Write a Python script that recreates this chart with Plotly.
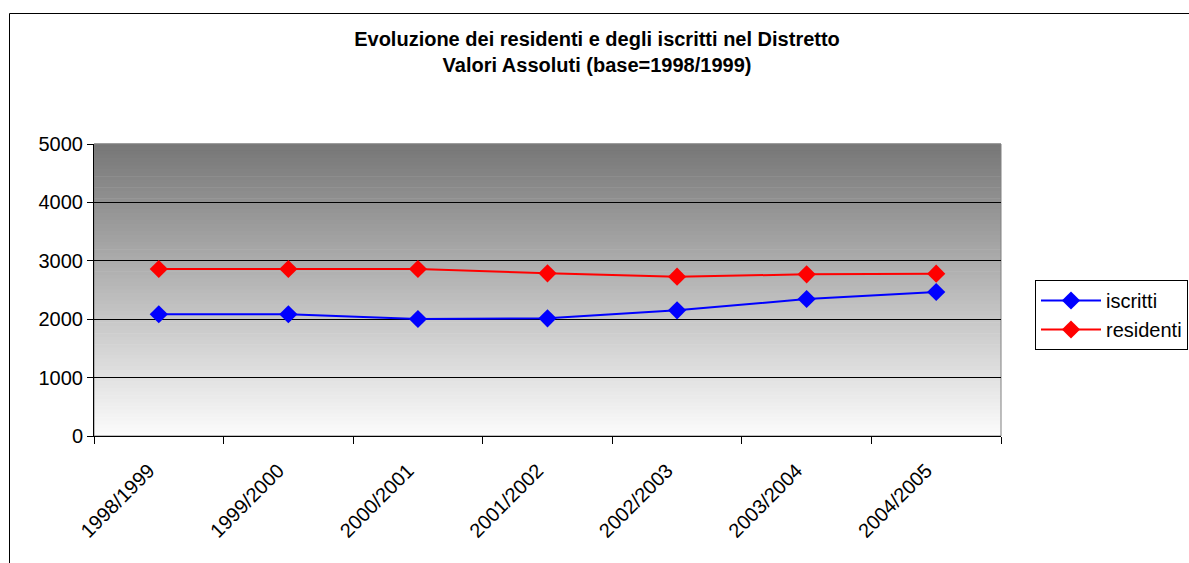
import plotly.graph_objects as go

# Anni scolastici e valori assoluti
anni = ["1998/1999", "1999/2000", "2000/2001", "2001/2002", "2002/2003", "2003/2004", "2004/2005"]
iscritti = [2085, 2085, 2003, 2015, 2152, 2346, 2466]
residenti = [2860, 2860, 2860, 2786, 2728, 2768, 2779]

W, H = 1189, 563
L, R, T, B = 94, 188, 144, 127
pw, ph = W - L - R, H - T - B

def px_x(p):
    return (p - L) / pw

def px_y(p):
    return (H - B - p) / ph

fig = go.Figure()
fig.add_trace(go.Scatter(
    x=anni, y=iscritti, name="iscritti", mode="lines+markers",
    line=dict(color="#0000ff", width=2),
    marker=dict(symbol="diamond", size=14, color="#0000ff"),
))
fig.add_trace(go.Scatter(
    x=anni, y=residenti, name="residenti", mode="lines+markers",
    line=dict(color="#ff0000", width=2),
    marker=dict(symbol="diamond", size=14, color="#ff0000"),
))

shapes = []
# vertical grey gradient in the plot area (dark at top, white at bottom)
n = 80
top_c, bot_c = 118, 252
for i in range(n):
    f = (i + 0.5) / n
    v = int(round(top_c + (bot_c - top_c) * f))
    shapes.append(dict(
        type="rect", xref="paper", yref="paper", layer="below",
        x0=0, x1=1, y0=1 - (i + 1) / n, y1=1 - i / n + 0.002,
        fillcolor=f"rgb({v},{v},{v})", line=dict(width=0),
    ))
# plot area frame
shapes.append(dict(type="rect", xref="paper", yref="paper", layer="below",
                   x0=0, x1=1, y0=0, y1=1, line=dict(color="#808080", width=1),
                   fillcolor="rgba(0,0,0,0)"))
# chart area frame
shapes.append(dict(type="rect", xref="paper", yref="paper", layer="above",
                   x0=px_x(9.5), x1=px_x(W + 20), y0=px_y(H + 20), y1=px_y(13.5),
                   line=dict(color="#000000", width=1), fillcolor="rgba(0,0,0,0)"))

fig.update_layout(
    width=W, height=H,
    margin=dict(l=L, r=R, t=T, b=B, autoexpand=False),
    paper_bgcolor="white", plot_bgcolor="rgba(0,0,0,0)",
    font=dict(family="Arial, Liberation Sans, sans-serif", size=20, color="black"),
    title=dict(
        text="<b>Evoluzione dei residenti e degli iscritti nel Distretto<br>Valori Assoluti (base=1998/1999)</b>",
        xref="container", x=597 / W, xanchor="center",
        yref="container", y=1 - 46 / H, yanchor="top",
        font=dict(size=20),
    ),
    showlegend=True,
    legend=dict(
        x=px_x(1035), xanchor="left", y=px_y(280), yanchor="top",
        bordercolor="#000000", borderwidth=1, bgcolor="white",
        font=dict(size=20), tracegroupgap=0, itemwidth=60,
    ),
    shapes=shapes,
)
fig.update_xaxes(
    type="category", range=[-0.5, 6.5], tickson="boundaries",
    ticks="outside", ticklen=7, tickcolor="black",
    showline=True, linecolor="black", linewidth=1,
    showgrid=False, tickangle=-45, tickfont=dict(size=20),
    ticklabelshift=-10, ticklabelstandoff=14,
)
fig.update_yaxes(
    range=[0, 5000], dtick=1000, ticks="outside", ticklen=6, tickcolor="black",
    showline=True, linecolor="black", linewidth=1,
    showgrid=True, gridcolor="black", gridwidth=1, zeroline=False,
    tickfont=dict(size=20),
)

fig.write_html("out.html")
